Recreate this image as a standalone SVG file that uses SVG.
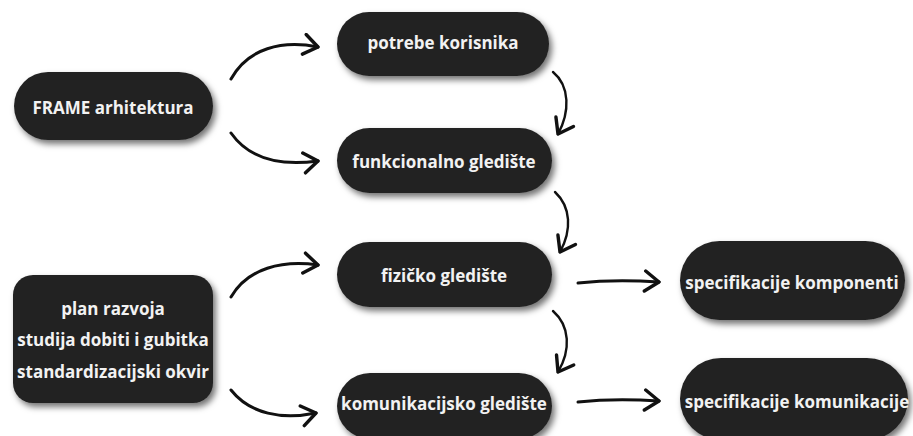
<svg xmlns="http://www.w3.org/2000/svg" width="913" height="436" viewBox="0 0 913 436">
<defs>
<filter id="sh" x="-20%" y="-30%" width="140%" height="170%">
<feDropShadow dx="3" dy="4" stdDeviation="3" flood-color="#000" flood-opacity="0.55"/>
</filter>
<marker id="ah" viewBox="0 0 20 24" refX="17" refY="12" markerWidth="20" markerHeight="24" markerUnits="userSpaceOnUse" orient="auto">
<path d="M3 2 L17 12 L3 22" fill="none" stroke="#111" stroke-width="3.4" stroke-linecap="round" stroke-linejoin="round"/>
</marker>
</defs>
<style>
.n{fill:#242424;filter:url(#sh)}
.t{fill:#f2f2f2;font-family:"Open Sans","Noto Sans",sans-serif;font-weight:700;font-size:17px;text-anchor:middle}
.c{fill:none;stroke:#111;stroke-width:3;stroke-linecap:round;marker-end:url(#ah)}
.c2{fill:none;stroke:#111;stroke-width:2.4;stroke-linecap:round;marker-end:url(#ah)}
</style>
<rect width="913" height="436" fill="#fff"/>
<g id="connectors">
<path class="c" d="M231 79 C248 48 282 40 318 47"/>
<path class="c" d="M231 133 C250 160 282 166 318 161"/>
<path class="c" d="M231 297 C248 268 282 260 318 265"/>
<path class="c" d="M231 390 C250 414 282 420 316 413"/>
<path class="c2" d="M553 72 C570 86 570 112 558 134"/>
<path class="c2" d="M555 192 C571 207 572 230 560 252"/>
<path class="c2" d="M553 311 C570 326 571 350 558 372"/>
<path class="c" d="M578 283 C605 280 630 280 659 282"/>
<path class="c" d="M578 402 C605 399 630 399 659 401"/>
</g>
<g id="frame">
<rect class="n" x="14" y="72" width="199" height="68" rx="34"/>
<text class="t" x="113" y="114">FRAME arhitektura</text>
</g>
<g id="plan">
<rect class="n" x="13" y="275" width="200" height="128" rx="20"/>
<text class="t" x="113" y="315">plan razvoja</text>
<text class="t" x="113" y="346">studija dobiti i gubitka</text>
<text class="t" x="113" y="378">standardizacijski okvir</text>
</g>
<g id="potrebe">
<rect class="n" x="337" y="12" width="212" height="64" rx="32"/>
<text class="t" x="443" y="49">potrebe korisnika</text>
</g>
<g id="funkcionalno">
<rect class="n" x="337" y="128" width="215" height="65" rx="32.5"/>
<text class="t" x="444" y="168">funkcionalno gledište</text>
</g>
<g id="fizicko">
<rect class="n" x="337" y="242" width="215" height="65" rx="32.5"/>
<text class="t" x="444" y="282">fizičko gledište</text>
</g>
<g id="komunikacijsko">
<rect class="n" x="337" y="373" width="215" height="66" rx="33"/>
<text class="t" x="444" y="410">komunikacijsko gledište</text>
</g>
<g id="spec-komponenti">
<rect class="n" x="680" y="241" width="225" height="79" rx="39.5"/>
<text class="t" x="792" y="289">specifikacije komponenti</text>
</g>
<g id="spec-komunikacije">
<rect class="n" x="680" y="358" width="228" height="82" rx="41"/>
<text class="t" x="797" y="408">specifikacije komunikacije</text>
</g>
</svg>
